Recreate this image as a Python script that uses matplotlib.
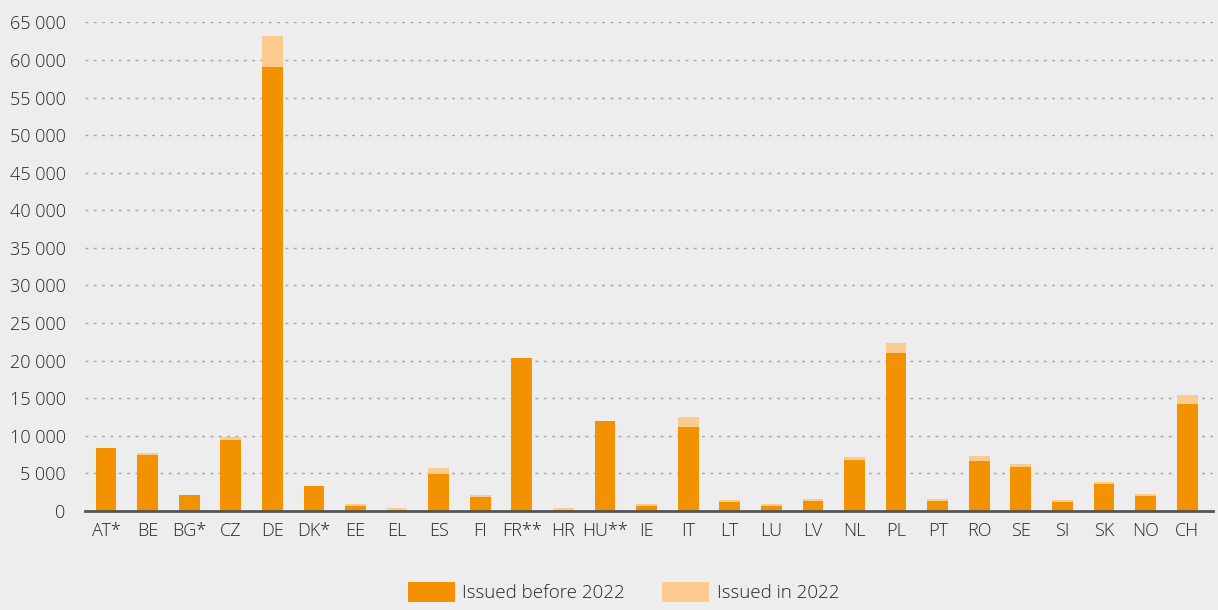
import numpy as np
import matplotlib.pyplot as plt
from matplotlib.ticker import FuncFormatter

# Residence permits per member state, split by year of issue
countries = ['AT*', 'BE', 'BG*', 'CZ', 'DE', 'DK*', 'EE', 'EL', 'ES', 'FI', 'FR**', 'HR', 'HU**',
             'IE', 'IT', 'LT', 'LU', 'LV', 'NL', 'PL', 'PT', 'RO', 'SE', 'SI', 'SK', 'NO', 'CH']
issuedBefore = [8400, 7450, 2150, 9450, 59100, 3350, 700, 100, 4950, 1900, 20300, 100, 12000,
                700, 11200, 1250, 700, 1350, 6800, 21000, 1350, 6700, 5900, 1250, 3650, 2050, 14250]
issuedIn2022 = [0, 300, 0, 400, 4100, 0, 250, 350, 800, 250, 0, 300, 0,
                250, 1300, 250, 250, 300, 400, 1300, 300, 650, 400, 250, 250, 250, 1200]

darkOrange = '#f39200'
lightOrange = '#fbcb8f'
bgColor = '#ededed'
textColor = '#262626'

plt.rcParams['font.family'] = ['Open Sans', 'DejaVu Sans']
plt.rcParams['font.weight'] = 'light'

fig = plt.figure(figsize=(12.18, 6.10), dpi=100, facecolor=bgColor)
ax = fig.add_axes([0.0698, 0.1623, 0.9262, 0.8011], facecolor=bgColor)

x = np.arange(len(countries))
ax.bar(x, issuedBefore, width=0.5, color=darkOrange, label='Issued before 2022', zorder=3)
ax.bar(x, issuedIn2022, width=0.5, bottom=issuedBefore, color=lightOrange,
       label='Issued in 2022', zorder=3)

ax.set_ylim(0, 65000)
ax.set_xlim(-0.505, 26.625)
ax.set_yticks(np.arange(0, 65001, 5000))
ax.yaxis.set_major_formatter(FuncFormatter(lambda v, p: '{:,.0f}'.format(v).replace(',', ' ')))
ax.set_xticks(x)
ax.set_xticklabels(countries)
ax.tick_params(length=0, labelsize=13, colors=textColor, pad=8)
ax.tick_params(axis='y', pad=14)

ax.grid(axis='y', color='#a5a5a5', linestyle=(0, (2, 4)), linewidth=1, zorder=0)
for side in ['top', 'right', 'left']:
  ax.spines[side].set_visible(False)
ax.spines['bottom'].set_color('#555555')
ax.spines['bottom'].set_linewidth(2)
ax.spines['bottom'].set_zorder(4)

leg = fig.legend(loc='center', bbox_to_anchor=(0.512, 0.029), ncol=2, frameon=False,
                 fontsize=13.5, handlelength=2.5, handleheight=1.25, columnspacing=2.0,
                 handletextpad=0.4)
for t in leg.get_texts():
  t.set_color(textColor)

plt.savefig('out.png', dpi=100, facecolor=bgColor)
